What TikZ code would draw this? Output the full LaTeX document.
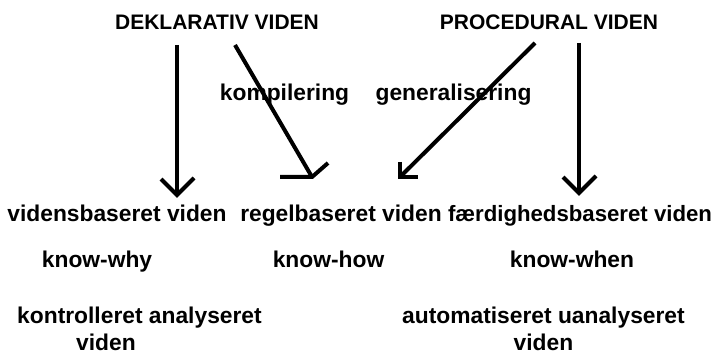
\documentclass[tikz,border=0pt]{standalone}
\usepackage{fontspec}
\setmainfont{Liberation Sans}
\begin{document}
\begin{tikzpicture}[x=1pt,y=-1pt,
  lbl/.style={anchor=base,inner sep=0pt,font=\fontsize{22.8}{26}\selectfont\bfseries},
  caplbl/.style={lbl,font=\fontsize{21}{24}\selectfont\bfseries},
  conn/.style={line width=4pt,line cap=butt,line join=miter},
  head/.style={line width=4pt,line cap=butt,line join=miter,miter limit=10}]
\useasboundingbox[fill=white] (0,0) rectangle (714,355);

% top sources
\node[caplbl] (dekl) at (217,30) {DEKLARATIV VIDEN};
\node[caplbl] (proc) at (549,30) {PROCEDURAL VIDEN};

% transition labels
\node[lbl] (komp) at (284.5,101) {kompilering};
\node[lbl] (gen) at (453.5,101) {generalisering};

% kinds of knowledge
\node[lbl] (vid) at (117,222) {vidensbaseret viden};
\node[lbl] (reg) at (341,222) {regelbaseret viden};
\node[lbl,font=\fontsize{22.2}{26}\selectfont\bfseries] (fae) at (580,222) {færdighedsbaseret viden};

\node[lbl] (why) at (97,267) {know-why};
\node[lbl] (how) at (328.5,267) {know-how};
\node[lbl] (when) at (572,267) {know-when};

\node[lbl] (kon) at (139.5,323) {kontrolleret analyseret};
\node[lbl] (kon2) at (106,350) {viden};
\node[lbl] (aut) at (543.5,323) {automatiseret uanalyseret};
\node[lbl] (aut2) at (543.5,350) {viden};

% arrow end points
\coordinate (s1) at (177,45);  \coordinate (t1) at (177,195);
\coordinate (s2) at (235,45);  \coordinate (t2) at (312,177);
\coordinate (s3) at (535,43);  \coordinate (t3) at (400,177);
\coordinate (s4) at (579,43);  \coordinate (t4) at (579,193);

% shafts
\draw[conn] (s1) -- (t1);
\draw[conn] (s2) -- (t2);
\draw[conn] (s3) -- (t3);
\draw[conn] (s4) -- (t4);

% open arrow heads
\draw[head] ([shift={(-16,-16)}]t1) -- (t1) -- ++(17,-17);
\draw[head] ([shift={(-32,0)}]t2) -- (t2) -- ++(16,-14);
\draw[head] ([shift={(0,-15)}]t3) -- (t3) -- ++(18,0);
\draw[head] ([shift={(-16,-16)}]t4) -- (t4) -- ++(17,-17);
\end{tikzpicture}
\end{document}
